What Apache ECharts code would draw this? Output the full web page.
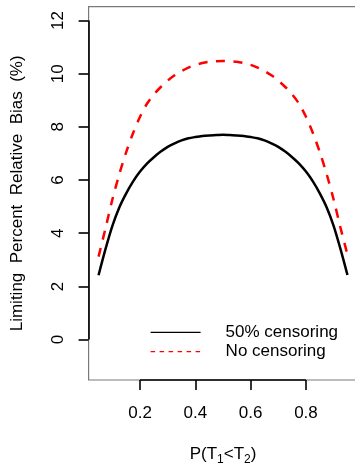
<!DOCTYPE html>
<html>
<head>
<meta charset="utf-8">
<script src="https://cdn.jsdelivr.net/npm/echarts@6/dist/echarts.min.js"></script>
<style>
html,body{margin:0;padding:0;background:#fff;}
#c{width:355px;height:466px;}
</style>
</head>
<body>
<div id="c"></div>
<script>
// ---- data ----
const pX = [0.05,0.075,0.1,0.125,0.15,0.175,0.2,0.225,0.25,0.275,0.3,0.325,0.35,0.375,0.4,0.425,0.45,0.475,0.5,
            0.525,0.55,0.575,0.6,0.625,0.65,0.675,0.7,0.725,0.75,0.775,0.8,0.825,0.85,0.875,0.9,0.925,0.95];
const censored50 = [2.42,3.4,4.28,4.97,5.5,5.95,6.32,6.62,6.86,7.07,7.25,7.38,7.49,7.57,7.62,7.66,7.68,7.69,7.70,
                    7.69,7.68,7.66,7.62,7.57,7.49,7.38,7.25,7.07,6.86,6.62,6.32,5.95,5.5,4.97,4.28,3.4,2.43];
const noCensoring = [3.12,4.18,5.27,6.22,7.05,7.77,8.38,8.87,9.22,9.5,9.74,9.94,10.1,10.23,10.33,10.4,10.45,10.47,10.48,
                     10.47,10.45,10.4,10.33,10.23,10.1,9.94,9.74,9.5,9.22,8.87,8.38,7.77,7.05,6.22,5.27,4.2,3.2];
const xTicks = [0.2,0.4,0.6,0.8];
const yTicks = [0,2,4,6,8,10,12];
const seriesNames = ['50% censoring','No censoring'];
const xRange = [0.014, 0.986];
const yRange = [-1.52, 12.52];

const FONT = '"Liberation Sans", Arial, sans-serif';
const chart = echarts.init(document.getElementById('c'), null, {renderer:'canvas'});

const toPairs = (xs, ys) => xs.map((x,i)=>[x, ys[i]]);

chart.setOption({
  animation:false,
  backgroundColor:'#fff',
  grid:{left:88.6, top:6.7, width:268.8, height:373.3, show:true, borderColor:'#7a7a7a', borderWidth:1.2,
        backgroundColor:'transparent', containLabel:false, outerBoundsMode:'none'},
  legend:{
    data:[
      {name:seriesNames[0], lineStyle:{width:1.2, color:'#000', type:'solid'}},
      {name:seriesNames[1], lineStyle:{width:1.2, color:'#ff0000', type:[4.5,4.5]}}
    ],
    left:150, top:323.8, orient:'vertical', itemWidth:50, itemHeight:17, itemGap:2.4, padding:0,
    selectedMode:false, itemStyle:{opacity:0},
    textStyle:{fontFamily:FONT, fontSize:17, color:'#000', padding:[0,0,0,20], lineHeight:17}
  },
  xAxis:{
    type:'value', min:xRange[0], max:xRange[1],
    axisLine:{show:false, onZero:false},
    splitLine:{show:false},
    axisTick:{show:true, inside:false, length:10, lineStyle:{color:'#000', width:1.6}, customValues:xTicks},
    axisLabel:{show:true, margin:25, fontFamily:FONT, fontSize:17, color:'#000', customValues:xTicks, formatter:v=>v.toFixed(1)},
    name:'{m|P(T}{s|1}{m|<T}{s|2}{m|)}', nameLocation:'middle', nameGap:62,
    nameTextStyle:{fontFamily:FONT, fontSize:17, color:'#000', lineHeight:24,
      rich:{m:{fontFamily:FONT, fontSize:17, color:'#000', verticalAlign:'middle', lineHeight:24},
            s:{fontFamily:FONT, fontSize:12, color:'#000', verticalAlign:'bottom', lineHeight:24}}}
  },
  yAxis:{
    type:'value', min:yRange[0], max:yRange[1],
    axisLine:{show:false, onZero:false},
    splitLine:{show:false},
    axisTick:{show:true, inside:false, length:10, lineStyle:{color:'#000', width:1.6}, customValues:yTicks},
    axisLabel:{show:true, rotate:90, margin:22, fontFamily:FONT, fontSize:17, color:'#000', customValues:yTicks},
    name:'Limiting  Percent  Relative  Bias  (%)', nameLocation:'middle', nameRotate:90, nameGap:63,
    nameTextStyle:{fontFamily:FONT, fontSize:17, color:'#000'}
  },
  series:[
    {name:seriesNames[0], type:'line', data:toPairs(pX, censored50), symbol:'none', smooth:0.3,
     lineStyle:{color:'#000', width:2.5}, itemStyle:{color:'#000'},
     markLine:{silent:true, symbol:['none','none'], label:{show:false},
       lineStyle:{color:'#000', width:1.6, type:'solid'},
       data:[
         [{coord:[xRange[0], yTicks[0]]},{coord:[xRange[0], yTicks[yTicks.length-1]]}],
         [{coord:[xTicks[0], yRange[0]]},{coord:[xTicks[xTicks.length-1], yRange[0]]}]
       ]}},
    {name:seriesNames[1], type:'line', data:toPairs(pX, noCensoring), symbol:'none', smooth:0.3,
     lineStyle:{color:'#ff0000', width:2.5, type:[9,8.5]}, itemStyle:{color:'#ff0000'}}
  ]
});
</script>
</body>
</html>
